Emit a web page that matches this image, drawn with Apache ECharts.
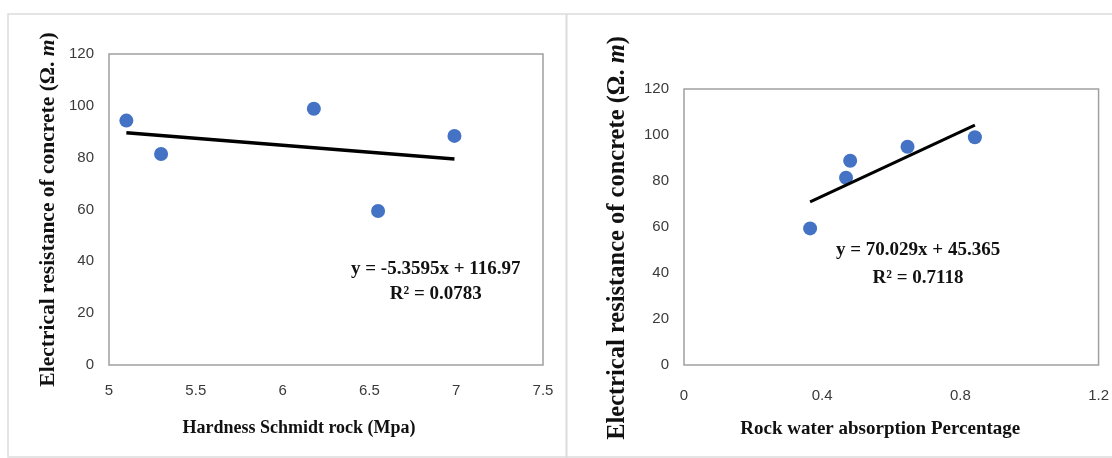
<!DOCTYPE html>
<html>
<head>
<meta charset="utf-8">
<script src="https://cdn.jsdelivr.net/npm/echarts@6/dist/echarts.min.js"></script>
<style>
html,body{margin:0;padding:0;background:#fff;}
#chart{width:1112px;height:458px;}
</style>
</head>
<body>
<div id="chart"></div>
<script>
// ---- data ----
const hardness = [5.10, 5.30, 6.18, 6.55, 6.99];
const resistanceA = [94.3, 81.4, 98.9, 59.4, 88.4];
const absorption = [0.365, 0.469, 0.481, 0.647, 0.842];
const resistanceB = [59.4, 81.4, 88.8, 94.9, 99.0];
// trendline end points (from the printed equations)
const trendAx = [5.10, 6.99];
const trendAy = [89.64, 79.51];
const trendBx = [0.365, 0.842];
const trendBy = [70.93, 104.33];
const eqA = ['y = -5.3595x + 116.97', 'R² = 0.0783'];
const eqB = ['y = 70.029x + 45.365', 'R² = 0.7118'];
const xTitleA = 'Hardness Schmidt rock (Mpa)';
const xTitleB = 'Rock water absorption Percentage';
const yTitle = 'Electrical resistance of concrete (Ω. {i|m})';

const pairs = (xs, ys) => xs.map((x, i) => [x, ys[i]]);

const serif = '"Liberation Serif","Times New Roman",serif';
const sans = '"Liberation Sans",Arial,sans-serif';
const tickLabel = {color: '#3a3a3a', fontFamily: sans, fontSize: 15};

function xAxis(idx, min, max, interval, name, fs, gap, margin, pad) {
  return {
    type: 'value', gridIndex: idx, min: min, max: max, interval: interval,
    axisLine: {show: false}, axisTick: {show: false}, splitLine: {show: false},
    axisLabel: Object.assign({margin: margin}, tickLabel),
    name: name, nameLocation: 'middle', nameGap: gap,
    nameTextStyle: {fontFamily: serif, fontWeight: 'bold', fontSize: fs, color: '#111', padding: pad}
  };
}
function yAxis(idx, fs, gap, pad) {
  return {
    type: 'value', gridIndex: idx, min: 0, max: 120, interval: 20,
    axisLine: {show: false}, axisTick: {show: false}, splitLine: {show: false},
    axisLabel: Object.assign({margin: 15}, tickLabel),
    name: yTitle, nameLocation: 'middle', nameGap: gap, nameRotate: 90,
    nameTextStyle: {
      fontFamily: serif, fontWeight: 'bold', fontSize: fs, color: '#111', padding: pad,
      rich: {i: {fontFamily: serif, fontWeight: 'bold', fontStyle: 'italic', fontSize: fs, color: '#111'}}
    }
  };
}

const chart = echarts.init(document.getElementById('chart'), null, {renderer: 'canvas'});
chart.setOption({
  backgroundColor: '#fff',
  animation: false,
  graphic: [
    {type: 'rect', shape: {x: 8, y: 14, width: 1120, height: 443}, style: {fill: 'none', stroke: '#dcdcdc', lineWidth: 1.5}, z: -1},
    {type: 'line', shape: {x1: 566.5, y1: 14, x2: 566.5, y2: 458}, style: {stroke: '#dcdcdc', lineWidth: 2}, z: -1},
    {type: 'text', left: 351, top: 257, style: {text: eqA.join('\n'), textAlign: 'center', font: 'bold 19px ' + serif, fill: '#111', lineHeight: 25, align: 'center'}},
    {type: 'text', left: 836, top: 236, style: {text: eqB.join('\n'), textAlign: 'center', font: 'bold 19px ' + serif, fill: '#111', lineHeight: 28, align: 'center'}}
  ],
  grid: [
    {left: 109, top: 54, width: 434, height: 311, show: true, borderColor: '#a0a0a0', borderWidth: 1.5, backgroundColor: '#fff'},
    {left: 684, top: 89, width: 417, height: 276, show: true, borderColor: '#a0a0a0', borderWidth: 1.5, backgroundColor: '#fff'}
  ],
  xAxis: [
    xAxis(0, 5, 7.5, 0.5, xTitleA, 18, 54, 18, [0, 54, 0, 0]),
    xAxis(1, 0, 1.2, 0.4, xTitleB, 19, 55, 23, [0, 22, 0, 0])
  ],
  yAxis: [
    yAxis(0, 21.5, 50, [0, 0, 0, 0]),
    yAxis(1, 24.5, 54, [0, 22, 0, 0])
  ],
  series: [
    {type: 'scatter', xAxisIndex: 0, yAxisIndex: 0, data: pairs(hardness, resistanceA), symbolSize: 14, itemStyle: {color: '#4472C4', opacity: 1}, z: 2},
    {type: 'line', xAxisIndex: 0, yAxisIndex: 0, data: pairs(trendAx, trendAy), showSymbol: false, symbol: 'none', lineStyle: {color: '#000', width: 3.5}, z: 3},
    {type: 'scatter', xAxisIndex: 1, yAxisIndex: 1, data: pairs(absorption, resistanceB), symbolSize: 14, itemStyle: {color: '#4472C4', opacity: 1}, z: 2},
    {type: 'line', xAxisIndex: 1, yAxisIndex: 1, data: pairs(trendBx, trendBy), showSymbol: false, symbol: 'none', lineStyle: {color: '#000', width: 3}, z: 3}
  ]
});
</script>
</body>
</html>
